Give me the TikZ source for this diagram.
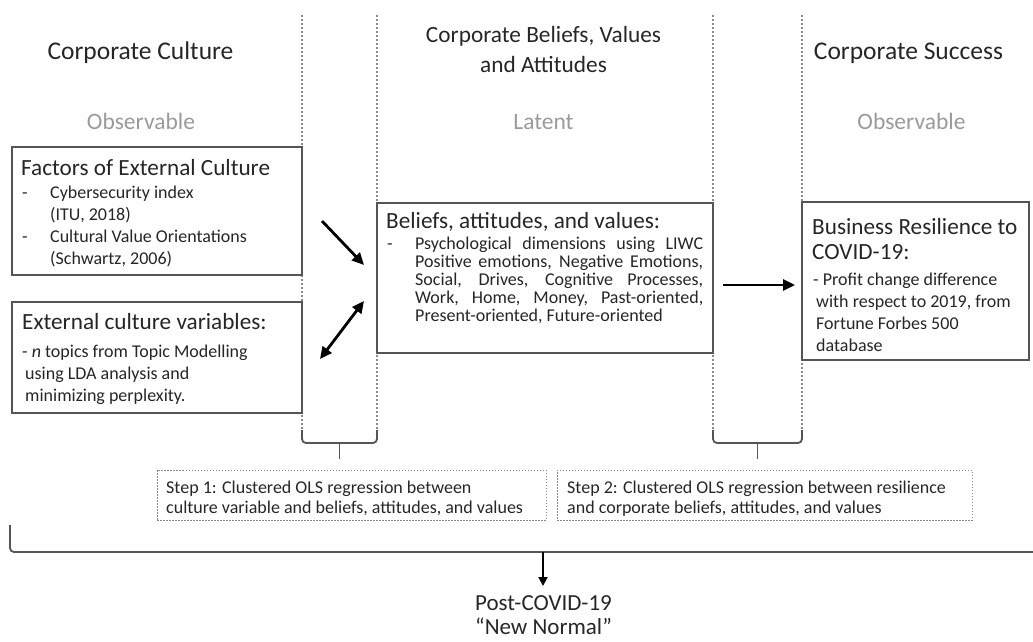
\documentclass[tikz,border=0pt]{standalone}
\usepackage{fontspec}
\setmainfont{Carlito}
\usetikzlibrary{arrows.meta}
\definecolor{boxgray}{HTML}{555555}
\definecolor{dotgray}{HTML}{8A8A8A}
\definecolor{lightgray}{HTML}{9A9A9A}
\definecolor{txt}{HTML}{262626}
\tikzset{
  box/.style={draw=boxgray, line width=1.8pt, fill=white, inner sep=0pt},
  stepbox/.style={draw=dotgray, line width=1pt, dash pattern=on 1.5pt off 1.5pt, inner sep=0pt},
  sep/.style={draw=dotgray, line width=1.3pt, dash pattern=on 2pt off 2pt},
  brace/.style={draw=boxgray, line width=1.8pt, rounded corners=4pt},
  arr/.style={line width=2.8pt, -{Triangle[length=12pt,width=11pt]}},
  darr/.style={line width=2.8pt, {Triangle[length=12pt,width=11pt]}-{Triangle[length=12pt,width=11pt]}},
  head/.style={font=\fontsize{25.5}{30}\selectfont, text=txt, align=center, inner sep=0pt, anchor=base},
  midhead/.style={font=\fontsize{23.3}{30}\selectfont, text=txt, align=center, inner sep=0pt, anchor=base},
  sub/.style={font=\fontsize{23.5}{28}\selectfont, text=lightgray, inner sep=0pt, anchor=base},
  btitle/.style={font=\fontsize{23.2}{25}\selectfont, text=txt, anchor=base west, inner sep=0pt, align=left},
  body/.style={font=\fontsize{18}{22}\selectfont, text=txt, anchor=base west, inner sep=0pt, align=left},
  tightbody/.style={font=\fontsize{18}{18}\selectfont, text=txt, anchor=base west, inner sep=0pt, align=left},
  steptext/.style={font=\fontsize{18}{20}\selectfont, text=txt, anchor=base west, inner sep=0pt, align=left},
}
\begin{document}
\begin{tikzpicture}[x=1pt,y=-1pt]
\useasboundingbox (0,0) rectangle (1033,641);
% separators
\draw[sep] (302,15) -- (302,432);
\draw[sep] (377,15) -- (377,432);
\draw[sep] (713,15) -- (713,432);
\draw[sep] (802,15) -- (802,432);
% headers (multi-line nodes are placed by the baseline of their last line)
\node[head] (h1) at (140.5,59) {Corporate Culture};
\node[midhead] (h2) at (543.5,72) {Corporate Beliefs, Values\\and Attitudes};
\node[head] (h3) at (908.5,59) {Corporate Success};
\node[sub] (s1) at (141,129.5) {Observable};
\node[sub] (s2) at (543.5,129.5) {Latent};
\node[sub] (s3) at (911.5,129.5) {Observable};
% boxes
\node[box, minimum width=290, minimum height=128] (fac) at (157,211) {};
\node[box, minimum width=290, minimum height=111] (ext) at (157,357.5) {};
\node[box, minimum width=336, minimum height=150] (bel) at (545,278) {};
\node[box, minimum width=227, minimum height=158] (bus) at (915.5,281) {};
% factors text
\node[btitle] (fact) at (21,175) {Factors of External Culture};
\node[body] (facd) at (22,242.5) {-\\\strut\\-};
\node[body] (facb) at (50,264.5) {Cybersecurity index\\(ITU, 2018)\\Cultural Value Orientations\\(Schwartz, 2006)};
% external text
\node[btitle] (extt) at (22,329) {External culture variables:};
\node[body] (extb) at (22,401.5) {- \textit{n} topics from Topic Modelling\\\hspace*{3pt}using LDA analysis and\\\hspace*{3pt}minimizing perplexity.};
% beliefs text
\node[btitle] (belt) at (386,228) {Beliefs, attitudes, and values:};
\node[tightbody] (beld) at (387,249) {-};
\node[tightbody] (belb) at (415,321) {%
\makebox[288pt][s]{Psychological dimensions using LIWC}\\
\makebox[288pt][s]{Positive emotions, Negative Emotions,}\\
\makebox[288pt][s]{Social, Drives, Cognitive Processes,}\\
\makebox[288pt][s]{Work, Home, Money, Past-oriented,}\\
Present-oriented, Future-oriented};
% business text
\node[btitle] (bust) at (812,259) {Business Resilience to\\COVID-19:};
\node[body] (busb) at (813,351) {- Profit change difference\\\hspace*{3pt}with respect to 2019, from\\\hspace*{3pt}Fortune Forbes 500\\\hspace*{3pt}database};
% arrows
\coordinate (a1s) at (322,221); \coordinate (a1e) at (364,265);
\coordinate (a2s) at (320,359); \coordinate (a2e) at (364,301);
\coordinate (a3s) at (723,285); \coordinate (a3e) at (795,285);
\draw[arr] (a1s) -- (a1e);
\draw[darr] (a2s) -- (a2e);
\draw[arr] (a3s) -- (a3e);
% step boxes
\node[stepbox, minimum width=389, minimum height=50] (st1) at (351.5,495) {};
\node[stepbox, minimum width=415, minimum height=50] (st2) at (764.5,495) {};
\node[steptext] (st1t) at (166,513.5) {Step 1: Clustered OLS regression between\\culture variable and beliefs, attitudes, and values};
\node[steptext] (st2t) at (567,513.5) {Step 2: Clustered OLS regression between resilience\\and corporate beliefs, attitudes, and values};
% small braces
\draw[brace] (302,430) -- (302,443) -- (377,443) -- (377,430);
\draw[brace] (713,430) -- (713,443) -- (802,443) -- (802,430);
\coordinate (b1) at (339.5,443); \coordinate (b2) at (757.5,443);
\draw[draw=boxgray, line width=1.8pt] (b1) -- (339.5,459);
\draw[draw=boxgray, line width=1.8pt] (b2) -- (757.5,459);
% big brace
\draw[brace] (10,525) -- (10,552) -- (1040,552);
\coordinate (bb) at (543,552);
\node[midhead, font=\fontsize{23}{24}\selectfont] (post) at (543.5,634) {Post-COVID-19\\``New Normal''};
\coordinate (pt) at (543,586);
\draw[line width=1.8pt, -{Triangle[length=9pt,width=9pt]}] (bb) -- (pt);
\end{tikzpicture}
\end{document}
